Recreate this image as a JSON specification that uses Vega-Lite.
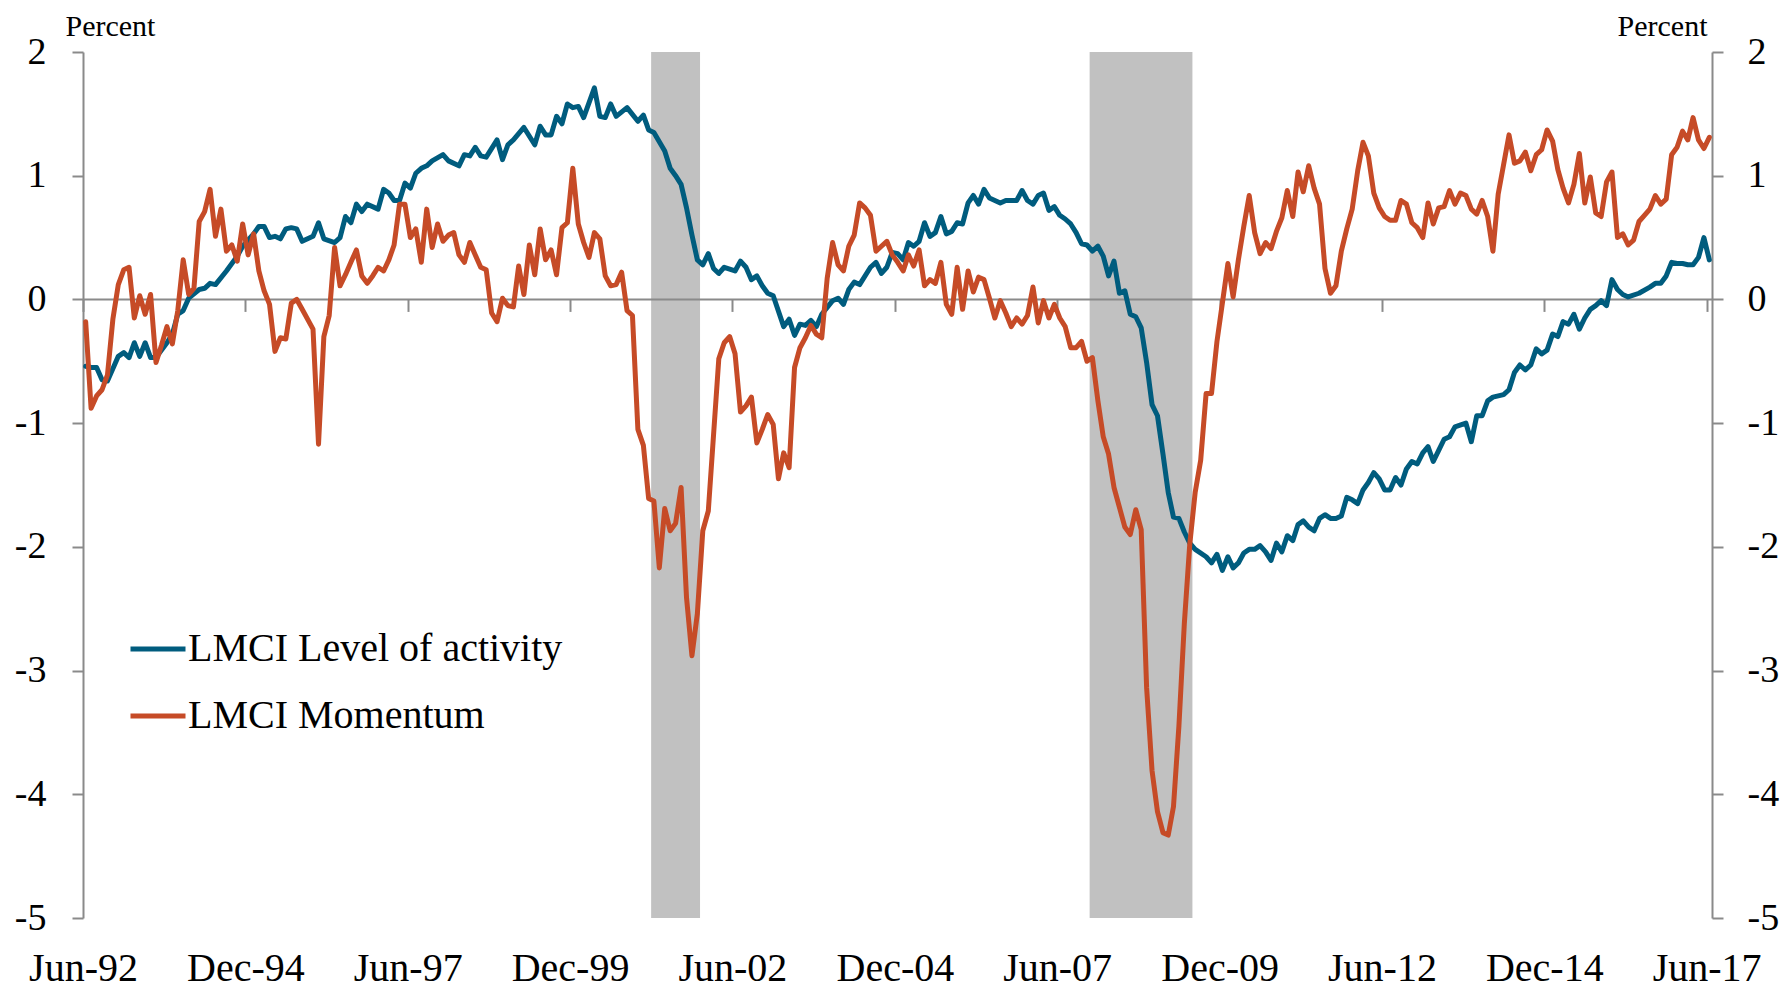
{
  "$schema": "https://vega.github.io/schema/vega-lite/v6.json",
  "width": 1629,
  "height": 866,
  "autosize": {"type": "none"},
  "padding": {"left": 83, "top": 52, "right": 73, "bottom": 73},
  "background": "white",
  "config": {"view": {"stroke": null}, "font": "Liberation Serif", "axis": {"grid": false}},
  "datasets": {
    "recessions": [
      {"start": "2001-03-01", "end": "2001-12-01"},
      {"start": "2007-12-01", "end": "2009-07-01"}
    ],
    "level": [
      {"date":"1992-06","value":-0.54},{"date":"1992-07","value":-0.55},{"date":"1992-08","value":-0.55},{"date":"1992-09","value":-0.65},{"date":"1992-10","value":-0.66},{"date":"1992-12","value":-0.46},
      {"date":"1993-01","value":-0.43},{"date":"1993-02","value":-0.47},{"date":"1993-03","value":-0.35},{"date":"1993-04","value":-0.46},{"date":"1993-05","value":-0.35},{"date":"1993-06","value":-0.47},{"date":"1993-07","value":-0.47},{"date":"1993-09","value":-0.35},{"date":"1993-10","value":-0.28},{"date":"1993-11","value":-0.12},{"date":"1993-12","value":-0.09},
      {"date":"1994-01","value":0.01},{"date":"1994-03","value":0.08},{"date":"1994-04","value":0.09},{"date":"1994-05","value":0.13},{"date":"1994-06","value":0.12},{"date":"1994-08","value":0.23},{"date":"1994-10","value":0.35},{"date":"1994-11","value":0.43},
      {"date":"1995-01","value":0.53},{"date":"1995-02","value":0.59},{"date":"1995-03","value":0.59},{"date":"1995-04","value":0.50},{"date":"1995-05","value":0.51},{"date":"1995-06","value":0.49},{"date":"1995-07","value":0.57},{"date":"1995-08","value":0.58},{"date":"1995-09","value":0.57},{"date":"1995-10","value":0.47},{"date":"1995-12","value":0.51},
      {"date":"1996-01","value":0.62},{"date":"1996-02","value":0.49},{"date":"1996-04","value":0.46},{"date":"1996-05","value":0.50},{"date":"1996-06","value":0.67},{"date":"1996-07","value":0.62},{"date":"1996-08","value":0.77},{"date":"1996-09","value":0.71},{"date":"1996-10","value":0.77},{"date":"1996-12","value":0.73},
      {"date":"1997-01","value":0.89},{"date":"1997-02","value":0.86},{"date":"1997-03","value":0.80},{"date":"1997-04","value":0.80},{"date":"1997-05","value":0.94},{"date":"1997-06","value":0.90},{"date":"1997-07","value":1.02},{"date":"1997-08","value":1.06},{"date":"1997-09","value":1.08},{"date":"1997-10","value":1.12},{"date":"1997-12","value":1.17},
      {"date":"1998-01","value":1.12},{"date":"1998-03","value":1.08},{"date":"1998-04","value":1.17},{"date":"1998-05","value":1.16},{"date":"1998-06","value":1.23},{"date":"1998-07","value":1.16},{"date":"1998-08","value":1.15},{"date":"1998-10","value":1.29},{"date":"1998-11","value":1.13},{"date":"1998-12","value":1.25},
      {"date":"1999-01","value":1.29},{"date":"1999-03","value":1.39},{"date":"1999-05","value":1.25},{"date":"1999-06","value":1.40},{"date":"1999-07","value":1.33},{"date":"1999-08","value":1.33},{"date":"1999-09","value":1.48},{"date":"1999-10","value":1.42},{"date":"1999-11","value":1.58},{"date":"1999-12","value":1.55},
      {"date":"2000-01","value":1.56},{"date":"2000-02","value":1.47},{"date":"2000-04","value":1.71},{"date":"2000-05","value":1.48},{"date":"2000-06","value":1.47},{"date":"2000-07","value":1.58},{"date":"2000-08","value":1.48},{"date":"2000-10","value":1.55},{"date":"2000-12","value":1.44},
      {"date":"2001-01","value":1.49},{"date":"2001-02","value":1.37},{"date":"2001-03","value":1.35},{"date":"2001-05","value":1.20},{"date":"2001-06","value":1.06},{"date":"2001-07","value":1.00},{"date":"2001-08","value":0.93},{"date":"2001-09","value":0.74},{"date":"2001-10","value":0.52},{"date":"2001-11","value":0.32},{"date":"2001-12","value":0.28},
      {"date":"2002-01","value":0.37},{"date":"2002-02","value":0.25},{"date":"2002-03","value":0.21},{"date":"2002-04","value":0.26},{"date":"2002-06","value":0.23},{"date":"2002-07","value":0.31},{"date":"2002-08","value":0.26},{"date":"2002-09","value":0.16},{"date":"2002-10","value":0.19},{"date":"2002-11","value":0.11},{"date":"2002-12","value":0.05},
      {"date":"2003-01","value":0.03},{"date":"2003-03","value":-0.22},{"date":"2003-04","value":-0.16},{"date":"2003-05","value":-0.29},{"date":"2003-06","value":-0.20},{"date":"2003-07","value":-0.21},{"date":"2003-08","value":-0.17},{"date":"2003-09","value":-0.22},{"date":"2003-10","value":-0.12},{"date":"2003-12","value":-0.01},
      {"date":"2004-01","value":0.01},{"date":"2004-02","value":-0.04},{"date":"2004-03","value":0.08},{"date":"2004-04","value":0.14},{"date":"2004-05","value":0.12},{"date":"2004-07","value":0.26},{"date":"2004-08","value":0.30},{"date":"2004-09","value":0.21},{"date":"2004-10","value":0.26},{"date":"2004-11","value":0.38},{"date":"2004-12","value":0.37},
      {"date":"2005-01","value":0.32},{"date":"2005-02","value":0.46},{"date":"2005-03","value":0.43},{"date":"2005-04","value":0.47},{"date":"2005-05","value":0.62},{"date":"2005-06","value":0.51},{"date":"2005-07","value":0.54},{"date":"2005-08","value":0.67},{"date":"2005-09","value":0.53},{"date":"2005-10","value":0.55},{"date":"2005-11","value":0.62},{"date":"2005-12","value":0.61},
      {"date":"2006-01","value":0.78},{"date":"2006-02","value":0.84},{"date":"2006-03","value":0.77},{"date":"2006-04","value":0.89},{"date":"2006-05","value":0.82},{"date":"2006-07","value":0.78},{"date":"2006-08","value":0.80},{"date":"2006-10","value":0.80},{"date":"2006-11","value":0.88},{"date":"2006-12","value":0.80},
      {"date":"2007-01","value":0.77},{"date":"2007-02","value":0.84},{"date":"2007-03","value":0.86},{"date":"2007-04","value":0.72},{"date":"2007-05","value":0.75},{"date":"2007-06","value":0.68},{"date":"2007-07","value":0.65},{"date":"2007-08","value":0.61},{"date":"2007-09","value":0.54},{"date":"2007-10","value":0.45},{"date":"2007-11","value":0.44},{"date":"2007-12","value":0.39},
      {"date":"2008-01","value":0.43},{"date":"2008-02","value":0.35},{"date":"2008-03","value":0.19},{"date":"2008-04","value":0.31},{"date":"2008-05","value":0.05},{"date":"2008-06","value":0.07},{"date":"2008-07","value":-0.12},{"date":"2008-08","value":-0.14},{"date":"2008-09","value":-0.23},{"date":"2008-10","value":-0.51},{"date":"2008-11","value":-0.85},{"date":"2008-12","value":-0.94},
      {"date":"2009-01","value":-1.25},{"date":"2009-02","value":-1.56},{"date":"2009-03","value":-1.76},{"date":"2009-04","value":-1.77},{"date":"2009-05","value":-1.88},{"date":"2009-06","value":-1.97},{"date":"2009-07","value":-2.02},{"date":"2009-09","value":-2.08},{"date":"2009-10","value":-2.13},{"date":"2009-11","value":-2.06},{"date":"2009-12","value":-2.19},
      {"date":"2010-01","value":-2.08},{"date":"2010-02","value":-2.17},{"date":"2010-03","value":-2.13},{"date":"2010-04","value":-2.05},{"date":"2010-05","value":-2.02},{"date":"2010-06","value":-2.02},{"date":"2010-07","value":-1.99},{"date":"2010-08","value":-2.04},{"date":"2010-09","value":-2.11},{"date":"2010-10","value":-1.97},{"date":"2010-11","value":-2.04},{"date":"2010-12","value":-1.91},
      {"date":"2011-01","value":-1.95},{"date":"2011-02","value":-1.82},{"date":"2011-03","value":-1.79},{"date":"2011-04","value":-1.84},{"date":"2011-05","value":-1.87},{"date":"2011-06","value":-1.77},{"date":"2011-07","value":-1.74},{"date":"2011-08","value":-1.77},{"date":"2011-09","value":-1.77},{"date":"2011-10","value":-1.75},{"date":"2011-11","value":-1.60},{"date":"2011-12","value":-1.62},
      {"date":"2012-01","value":-1.65},{"date":"2012-02","value":-1.54},{"date":"2012-03","value":-1.48},{"date":"2012-04","value":-1.40},{"date":"2012-05","value":-1.45},{"date":"2012-06","value":-1.54},{"date":"2012-07","value":-1.54},{"date":"2012-08","value":-1.44},{"date":"2012-09","value":-1.50},{"date":"2012-10","value":-1.37},{"date":"2012-11","value":-1.31},{"date":"2012-12","value":-1.33},
      {"date":"2013-01","value":-1.24},{"date":"2013-02","value":-1.19},{"date":"2013-03","value":-1.31},{"date":"2013-04","value":-1.22},{"date":"2013-05","value":-1.13},{"date":"2013-06","value":-1.11},{"date":"2013-07","value":-1.03},{"date":"2013-09","value":-1.00},{"date":"2013-10","value":-1.15},{"date":"2013-11","value":-0.94},{"date":"2013-12","value":-0.94},
      {"date":"2014-01","value":-0.82},{"date":"2014-02","value":-0.79},{"date":"2014-04","value":-0.77},{"date":"2014-05","value":-0.73},{"date":"2014-06","value":-0.59},{"date":"2014-07","value":-0.53},{"date":"2014-08","value":-0.57},{"date":"2014-09","value":-0.53},{"date":"2014-10","value":-0.40},{"date":"2014-11","value":-0.44},{"date":"2014-12","value":-0.41},
      {"date":"2015-01","value":-0.28},{"date":"2015-02","value":-0.30},{"date":"2015-03","value":-0.18},{"date":"2015-04","value":-0.20},{"date":"2015-05","value":-0.12},{"date":"2015-06","value":-0.24},{"date":"2015-07","value":-0.15},{"date":"2015-08","value":-0.08},{"date":"2015-09","value":-0.05},{"date":"2015-10","value":-0.01},{"date":"2015-11","value":-0.05},{"date":"2015-12","value":0.16},
      {"date":"2016-01","value":0.08},{"date":"2016-02","value":0.04},{"date":"2016-03","value":0.02},{"date":"2016-05","value":0.05},{"date":"2016-07","value":0.10},{"date":"2016-08","value":0.13},{"date":"2016-09","value":0.13},{"date":"2016-10","value":0.19},{"date":"2016-11","value":0.30},{"date":"2016-12","value":0.29},
      {"date":"2017-01","value":0.29},{"date":"2017-02","value":0.28},{"date":"2017-03","value":0.28},{"date":"2017-04","value":0.34},{"date":"2017-05","value":0.50},{"date":"2017-06","value":0.32}
    ],
    "momentum": [
      {"date":"1992-06","value":-0.18},{"date":"1992-07","value":-0.88},{"date":"1992-08","value":-0.78},{"date":"1992-09","value":-0.73},{"date":"1992-10","value":-0.61},{"date":"1992-11","value":-0.16},{"date":"1992-12","value":0.12},
      {"date":"1993-01","value":0.24},{"date":"1993-02","value":0.26},{"date":"1993-03","value":-0.15},{"date":"1993-04","value":0.03},{"date":"1993-05","value":-0.12},{"date":"1993-06","value":0.04},{"date":"1993-07","value":-0.51},{"date":"1993-08","value":-0.37},{"date":"1993-09","value":-0.22},{"date":"1993-10","value":-0.36},{"date":"1993-11","value":-0.09},{"date":"1993-12","value":0.32},
      {"date":"1994-01","value":0.04},{"date":"1994-02","value":0.09},{"date":"1994-03","value":0.63},{"date":"1994-04","value":0.71},{"date":"1994-05","value":0.89},{"date":"1994-06","value":0.51},{"date":"1994-07","value":0.73},{"date":"1994-08","value":0.39},{"date":"1994-09","value":0.44},{"date":"1994-10","value":0.31},{"date":"1994-11","value":0.61},{"date":"1994-12","value":0.36},
      {"date":"1995-01","value":0.53},{"date":"1995-02","value":0.23},{"date":"1995-03","value":0.07},{"date":"1995-04","value":-0.04},{"date":"1995-05","value":-0.42},{"date":"1995-06","value":-0.31},{"date":"1995-07","value":-0.32},{"date":"1995-08","value":-0.03},{"date":"1995-09","value":0.00},{"date":"1995-10","value":-0.08},{"date":"1995-12","value":-0.24},
      {"date":"1996-01","value":-1.17},{"date":"1996-02","value":-0.30},{"date":"1996-03","value":-0.13},{"date":"1996-04","value":0.42},{"date":"1996-05","value":0.11},{"date":"1996-06","value":0.20},{"date":"1996-07","value":0.30},{"date":"1996-08","value":0.40},{"date":"1996-09","value":0.19},{"date":"1996-10","value":0.13},{"date":"1996-11","value":0.19},{"date":"1996-12","value":0.26},
      {"date":"1997-01","value":0.23},{"date":"1997-02","value":0.32},{"date":"1997-03","value":0.44},{"date":"1997-04","value":0.77},{"date":"1997-05","value":0.77},{"date":"1997-06","value":0.50},{"date":"1997-07","value":0.57},{"date":"1997-08","value":0.30},{"date":"1997-09","value":0.73},{"date":"1997-10","value":0.42},{"date":"1997-11","value":0.61},{"date":"1997-12","value":0.47},
      {"date":"1998-01","value":0.52},{"date":"1998-02","value":0.54},{"date":"1998-03","value":0.36},{"date":"1998-04","value":0.30},{"date":"1998-05","value":0.46},{"date":"1998-06","value":0.36},{"date":"1998-07","value":0.26},{"date":"1998-08","value":0.24},{"date":"1998-09","value":-0.11},{"date":"1998-10","value":-0.18},{"date":"1998-11","value":0.01},{"date":"1998-12","value":-0.05},
      {"date":"1999-01","value":-0.06},{"date":"1999-02","value":0.27},{"date":"1999-03","value":0.04},{"date":"1999-04","value":0.44},{"date":"1999-05","value":0.20},{"date":"1999-06","value":0.57},{"date":"1999-07","value":0.32},{"date":"1999-08","value":0.40},{"date":"1999-09","value":0.20},{"date":"1999-10","value":0.58},{"date":"1999-11","value":0.62},{"date":"1999-12","value":1.06},
      {"date":"2000-01","value":0.61},{"date":"2000-02","value":0.46},{"date":"2000-03","value":0.34},{"date":"2000-04","value":0.54},{"date":"2000-05","value":0.49},{"date":"2000-06","value":0.19},{"date":"2000-07","value":0.11},{"date":"2000-08","value":0.12},{"date":"2000-09","value":0.22},{"date":"2000-10","value":-0.09},{"date":"2000-11","value":-0.13},{"date":"2000-12","value":-1.05},
      {"date":"2001-01","value":-1.18},{"date":"2001-02","value":-1.61},{"date":"2001-03","value":-1.63},{"date":"2001-04","value":-2.17},{"date":"2001-05","value":-1.69},{"date":"2001-06","value":-1.87},{"date":"2001-07","value":-1.81},{"date":"2001-08","value":-1.52},{"date":"2001-09","value":-2.41},{"date":"2001-10","value":-2.88},{"date":"2001-11","value":-2.54},{"date":"2001-12","value":-1.87},
      {"date":"2002-01","value":-1.71},{"date":"2002-03","value":-0.48},{"date":"2002-04","value":-0.35},{"date":"2002-05","value":-0.30},{"date":"2002-06","value":-0.44},{"date":"2002-07","value":-0.91},{"date":"2002-08","value":-0.86},{"date":"2002-09","value":-0.79},{"date":"2002-10","value":-1.16},{"date":"2002-11","value":-1.05},{"date":"2002-12","value":-0.93},
      {"date":"2003-01","value":-1.01},{"date":"2003-02","value":-1.45},{"date":"2003-03","value":-1.24},{"date":"2003-04","value":-1.36},{"date":"2003-05","value":-0.55},{"date":"2003-06","value":-0.39},{"date":"2003-07","value":-0.31},{"date":"2003-08","value":-0.21},{"date":"2003-09","value":-0.28},{"date":"2003-10","value":-0.31},{"date":"2003-11","value":0.17},{"date":"2003-12","value":0.46},
      {"date":"2004-01","value":0.28},{"date":"2004-02","value":0.23},{"date":"2004-03","value":0.43},{"date":"2004-04","value":0.52},{"date":"2004-05","value":0.78},{"date":"2004-06","value":0.74},{"date":"2004-07","value":0.68},{"date":"2004-08","value":0.39},{"date":"2004-09","value":0.43},{"date":"2004-10","value":0.47},{"date":"2004-11","value":0.36},{"date":"2004-12","value":0.30},
      {"date":"2005-01","value":0.23},{"date":"2005-02","value":0.36},{"date":"2005-03","value":0.27},{"date":"2005-04","value":0.40},{"date":"2005-05","value":0.11},{"date":"2005-06","value":0.16},{"date":"2005-07","value":0.13},{"date":"2005-08","value":0.30},{"date":"2005-09","value":-0.04},{"date":"2005-10","value":-0.12},{"date":"2005-11","value":0.26},{"date":"2005-12","value":-0.08},
      {"date":"2006-01","value":0.23},{"date":"2006-02","value":0.06},{"date":"2006-03","value":0.18},{"date":"2006-04","value":0.16},{"date":"2006-05","value":0.01},{"date":"2006-06","value":-0.15},{"date":"2006-07","value":-0.01},{"date":"2006-08","value":-0.11},{"date":"2006-09","value":-0.22},{"date":"2006-10","value":-0.15},{"date":"2006-11","value":-0.20},{"date":"2006-12","value":-0.13},
      {"date":"2007-01","value":0.10},{"date":"2007-02","value":-0.19},{"date":"2007-03","value":-0.01},{"date":"2007-04","value":-0.15},{"date":"2007-05","value":-0.04},{"date":"2007-06","value":-0.15},{"date":"2007-07","value":-0.22},{"date":"2007-08","value":-0.39},{"date":"2007-09","value":-0.39},{"date":"2007-10","value":-0.34},{"date":"2007-11","value":-0.50},{"date":"2007-12","value":-0.47},
      {"date":"2008-01","value":-0.82},{"date":"2008-02","value":-1.11},{"date":"2008-03","value":-1.25},{"date":"2008-04","value":-1.52},{"date":"2008-05","value":-1.68},{"date":"2008-06","value":-1.84},{"date":"2008-07","value":-1.90},{"date":"2008-08","value":-1.70},{"date":"2008-09","value":-1.86},{"date":"2008-10","value":-3.14},{"date":"2008-11","value":-3.81},{"date":"2008-12","value":-4.14},
      {"date":"2009-01","value":-4.31},{"date":"2009-02","value":-4.33},{"date":"2009-03","value":-4.10},{"date":"2009-04","value":-3.45},{"date":"2009-05","value":-2.62},{"date":"2009-06","value":-1.98},{"date":"2009-07","value":-1.56},{"date":"2009-08","value":-1.30},{"date":"2009-09","value":-0.76},{"date":"2009-10","value":-0.76},{"date":"2009-11","value":-0.34},{"date":"2009-12","value":-0.03},
      {"date":"2010-01","value":0.29},{"date":"2010-02","value":0.02},{"date":"2010-03","value":0.32},{"date":"2010-04","value":0.59},{"date":"2010-05","value":0.84},{"date":"2010-06","value":0.54},{"date":"2010-07","value":0.37},{"date":"2010-08","value":0.46},{"date":"2010-09","value":0.41},{"date":"2010-10","value":0.55},{"date":"2010-11","value":0.66},{"date":"2010-12","value":0.88},
      {"date":"2011-01","value":0.67},{"date":"2011-02","value":1.03},{"date":"2011-03","value":0.87},{"date":"2011-04","value":1.08},{"date":"2011-05","value":0.90},{"date":"2011-06","value":0.77},{"date":"2011-07","value":0.25},{"date":"2011-08","value":0.05},{"date":"2011-09","value":0.11},{"date":"2011-10","value":0.39},{"date":"2011-11","value":0.57},{"date":"2011-12","value":0.73},
      {"date":"2012-01","value":1.04},{"date":"2012-02","value":1.27},{"date":"2012-03","value":1.16},{"date":"2012-04","value":0.86},{"date":"2012-05","value":0.74},{"date":"2012-06","value":0.67},{"date":"2012-07","value":0.64},{"date":"2012-08","value":0.64},{"date":"2012-09","value":0.80},{"date":"2012-10","value":0.77},{"date":"2012-11","value":0.62},{"date":"2012-12","value":0.58},
      {"date":"2013-01","value":0.50},{"date":"2013-02","value":0.78},{"date":"2013-03","value":0.61},{"date":"2013-04","value":0.74},{"date":"2013-05","value":0.75},{"date":"2013-06","value":0.88},{"date":"2013-07","value":0.77},{"date":"2013-08","value":0.86},{"date":"2013-09","value":0.84},{"date":"2013-10","value":0.73},{"date":"2013-11","value":0.69},{"date":"2013-12","value":0.80},
      {"date":"2014-01","value":0.67},{"date":"2014-02","value":0.39},{"date":"2014-03","value":0.85},{"date":"2014-04","value":1.09},{"date":"2014-05","value":1.33},{"date":"2014-06","value":1.10},{"date":"2014-07","value":1.12},{"date":"2014-08","value":1.19},{"date":"2014-09","value":1.04},{"date":"2014-10","value":1.17},{"date":"2014-11","value":1.21},{"date":"2014-12","value":1.37},
      {"date":"2015-01","value":1.28},{"date":"2015-02","value":1.05},{"date":"2015-03","value":0.90},{"date":"2015-04","value":0.78},{"date":"2015-05","value":0.93},{"date":"2015-06","value":1.18},{"date":"2015-07","value":0.78},{"date":"2015-08","value":0.99},{"date":"2015-09","value":0.70},{"date":"2015-10","value":0.67},{"date":"2015-11","value":0.95},{"date":"2015-12","value":1.03},
      {"date":"2016-01","value":0.50},{"date":"2016-02","value":0.53},{"date":"2016-03","value":0.44},{"date":"2016-04","value":0.48},{"date":"2016-05","value":0.63},{"date":"2016-06","value":0.68},{"date":"2016-07","value":0.73},{"date":"2016-08","value":0.84},{"date":"2016-09","value":0.77},{"date":"2016-10","value":0.81},{"date":"2016-11","value":1.17},{"date":"2016-12","value":1.23},
      {"date":"2017-01","value":1.36},{"date":"2017-02","value":1.29},{"date":"2017-03","value":1.47},{"date":"2017-04","value":1.29},{"date":"2017-05","value":1.22},{"date":"2017-06","value":1.31}
    ]
  },
  "layer": [
    {
      "data": {"name": "recessions"},
      "mark": {"type": "rect", "color": "#C1C1C1"},
      "encoding": {
        "x": {"field": "start", "type": "temporal", "scale": {"type": "utc", "domain": [{"year": 1992, "month": 6, "date": 1, "utc": true}, {"year": 2017, "month": 7, "date": 1, "utc": true}]}, "axis": null},
        "x2": {"field": "end"}
      }
    },
    {
      "data": {"values": [{}]},
      "mark": {"type": "rule", "color": "#8A8A8A", "strokeWidth": 2},
      "encoding": {
        "y": {"datum": 0, "type": "quantitative", "scale": {"domain": [-5, 2]}, "axis": null}
      }
    },
    {
      "data": {"name": "level"},
      "mark": {"type": "line", "strokeWidth": 5, "strokeJoin": "round", "strokeCap": "round"},
      "encoding": {
        "x": {
          "field": "date", "timeUnit": "utcyearmonth", "type": "temporal", "bandPosition": 0.5,
          "scale": {"type": "utc", "domain": [{"year": 1992, "month": 6, "date": 1, "utc": true}, {"year": 2017, "month": 7, "date": 1, "utc": true}]},
          "axis": {
            "orient": "bottom", "title": null, "format": "%b-%y",
            "values": [
              {"year": 1992, "month": 6, "date": 1, "utc": true}, {"year": 1994, "month": 12, "date": 1, "utc": true},
              {"year": 1997, "month": 6, "date": 1, "utc": true}, {"year": 1999, "month": 12, "date": 1, "utc": true},
              {"year": 2002, "month": 6, "date": 1, "utc": true}, {"year": 2004, "month": 12, "date": 1, "utc": true},
              {"year": 2007, "month": 6, "date": 1, "utc": true}, {"year": 2009, "month": 12, "date": 1, "utc": true},
              {"year": 2012, "month": 6, "date": 1, "utc": true}, {"year": 2014, "month": 12, "date": 1, "utc": true},
              {"year": 2017, "month": 6, "date": 1, "utc": true}
            ],
            "domain": false, "ticks": false, "tickSize": 0, "grid": false,
            "labelFont": "Liberation Serif", "labelFontSize": 40, "labelColor": "#000000",
            "labelPadding": 30, "labelAngle": 0, "labelOverlap": false, "labelBound": false, "labelFlush": false
          }
        },
        "y": {
          "field": "value", "type": "quantitative", "scale": {"domain": [-5, 2]},
          "axis": {
            "orient": "left", "values": [-5, -4, -3, -2, -1, 0, 1, 2], "labelExpr": "'' + datum.value",
            "domain": true, "domainColor": "#8A8A8A", "domainWidth": 2,
            "ticks": true, "tickSize": 11, "tickColor": "#8A8A8A", "tickWidth": 2, "grid": false,
            "labelFont": "Liberation Serif", "labelFontSize": 38, "labelColor": "#000000", "labelPadding": 26, "labelFlush": false, "labelBound": false,
            "title": "Percent", "titleAngle": 0, "titleX": -18, "titleY": -17, "titleAlign": "left", "titleBaseline": "alphabetic",
            "titleFont": "Liberation Serif", "titleFontSize": 30, "titleFontWeight": "normal", "titleColor": "#000000"
          }
        },
        "color": {
          "datum": "LMCI Level of activity",
          "scale": {"domain": ["LMCI Level of activity", "LMCI Momentum"], "range": ["#005C7E", "#C64B27"]},
          "legend": {
            "orient": "none", "legendX": 45, "legendY": 567, "title": null, "direction": "vertical",
            "symbolType": "stroke", "symbolSize": 3025, "symbolStrokeWidth": 5,
            "labelFont": "Liberation Serif", "labelFontSize": 40, "labelColor": "#000000", "labelLimit": 0,
            "rowPadding": 17, "labelOffset": 0, "padding": 0, "symbolOffset": 0
          }
        }
      }
    },
    {
      "data": {"name": "momentum"},
      "mark": {"type": "line", "strokeWidth": 5, "strokeJoin": "round", "strokeCap": "round"},
      "encoding": {
        "x": {
          "field": "date", "timeUnit": "utcyearmonth", "type": "temporal", "bandPosition": 0.5,
          "scale": {"type": "utc", "domain": [{"year": 1992, "month": 6, "date": 1, "utc": true}, {"year": 2017, "month": 7, "date": 1, "utc": true}]},
          "axis": {
            "orient": "bottom", "offset": -618.6, "title": null, "labels": false, "domain": false,
            "values": [
              {"year": 1992, "month": 6, "date": 1, "utc": true}, {"year": 1994, "month": 12, "date": 1, "utc": true},
              {"year": 1997, "month": 6, "date": 1, "utc": true}, {"year": 1999, "month": 12, "date": 1, "utc": true},
              {"year": 2002, "month": 6, "date": 1, "utc": true}, {"year": 2004, "month": 12, "date": 1, "utc": true},
              {"year": 2007, "month": 6, "date": 1, "utc": true}, {"year": 2009, "month": 12, "date": 1, "utc": true},
              {"year": 2012, "month": 6, "date": 1, "utc": true}, {"year": 2014, "month": 12, "date": 1, "utc": true},
              {"year": 2017, "month": 6, "date": 1, "utc": true}
            ],
            "ticks": true, "tickSize": 12, "tickColor": "#8A8A8A", "tickWidth": 2, "grid": false
          }
        },
        "y": {
          "field": "value", "type": "quantitative", "scale": {"domain": [-5, 2]},
          "axis": {
            "orient": "right", "values": [-5, -4, -3, -2, -1, 0, 1, 2], "labelExpr": "'' + datum.value",
            "domain": true, "domainColor": "#8A8A8A", "domainWidth": 2,
            "ticks": true, "tickSize": 11, "tickColor": "#8A8A8A", "tickWidth": 2, "grid": false,
            "labelFont": "Liberation Serif", "labelFontSize": 38, "labelColor": "#000000", "labelPadding": 24, "labelFlush": false, "labelBound": false,
            "title": "Percent", "titleAngle": 0, "titleX": -5, "titleY": -17, "titleAlign": "right", "titleBaseline": "alphabetic",
            "titleFont": "Liberation Serif", "titleFontSize": 30, "titleFontWeight": "normal", "titleColor": "#000000"
          }
        },
        "color": {
          "datum": "LMCI Momentum",
          "scale": {"domain": ["LMCI Level of activity", "LMCI Momentum"], "range": ["#005C7E", "#C64B27"]},
          "legend": {
            "orient": "none", "legendX": 45, "legendY": 567, "title": null, "direction": "vertical",
            "symbolType": "stroke", "symbolSize": 3025, "symbolStrokeWidth": 5,
            "labelFont": "Liberation Serif", "labelFontSize": 40, "labelColor": "#000000", "labelLimit": 0,
            "rowPadding": 17, "labelOffset": 0, "padding": 0, "symbolOffset": 0
          }
        }
      }
    }
  ],
  "resolve": {"axis": {"x": "independent", "y": "independent"}}
}
